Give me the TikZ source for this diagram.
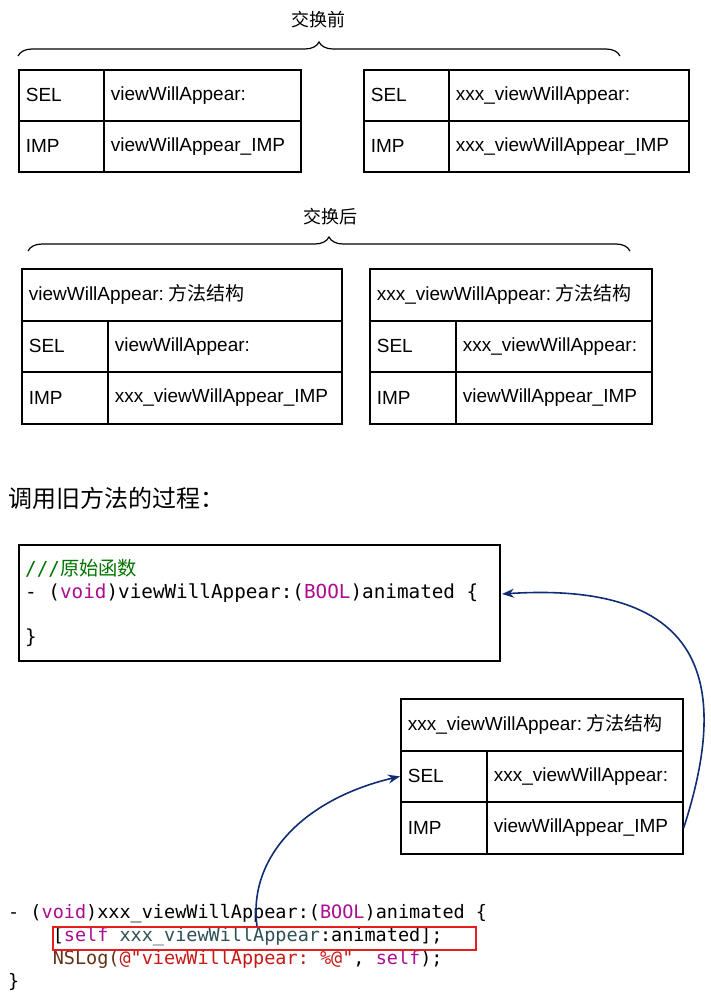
\documentclass[tikz,border=0pt]{standalone}
\usepackage{fontspec}
\setmainfont{Liberation Sans}
\setmonofont{DejaVu Sans Mono}
\newfontfamily\cjk{Noto Sans CJK SC}
\usetikzlibrary{decorations.pathreplacing,arrows.meta}
\definecolor{navy}{RGB}{16,44,115}
\definecolor{xgreen}{RGB}{0,116,0}
\definecolor{xkw}{RGB}{170,13,145}
\definecolor{xteal}{RGB}{46,80,85}
\definecolor{xbrown}{RGB}{100,50,25}
\definecolor{xstr}{RGB}{196,26,22}
\definecolor{xred}{RGB}{230,30,30}
\newcommand\kwc[1]{\textcolor{xkw}{#1}}
\newcommand\mycell[6]{\node[cell, text width=#4pt, minimum height=#5pt] (#1) at (#2,#3) {#6};}
\begin{document}
\begin{tikzpicture}[x=1pt,y=-1pt,
  cell/.style={draw, line width=1.7pt, anchor=north west, inner xsep=7pt, inner ysep=0pt, align=left, font=\fontsize{19}{22}\selectfont},
  title/.style={inner sep=0pt, font=\cjk\fontsize{18}{20}\selectfont},
  bracestyle/.style={decorate, decoration={brace, amplitude=14pt}, line width=1.2pt},
  codetext/.style={inner sep=0pt, anchor=base west},
  arr/.style={draw=navy, line width=1.6pt, -{Stealth[length=12pt,width=9pt]}}]
\useasboundingbox (0,0) rectangle (711,1000);

% before swap
\node[title] (before) at (318,20) {交换前};
\draw[bracestyle] (18,56) -- (620,56);
\mycell{t1a}{18}{69}{71}{51}{SEL}
\mycell{t1b}{103}{69}{183}{51}{viewWillAppear:}
\mycell{t1c}{18}{120}{71}{51}{IMP}
\mycell{t1d}{103}{120}{183}{51}{viewWillAppear\_IMP}
\mycell{t2a}{363}{69}{71}{51}{SEL}
\mycell{t2b}{448}{69}{226}{51}{xxx\_viewWillAppear:}
\mycell{t2c}{363}{120}{71}{51}{IMP}
\mycell{t2d}{448}{120}{226}{51}{xxx\_viewWillAppear\_IMP}

% after swap
\node[title] (after) at (330,217) {交换后};
\draw[bracestyle] (28,251) -- (630,251);
\mycell{t3h}{21}{268}{306}{52}{viewWillAppear:\hspace{4pt}{\cjk 方法结构}}
\mycell{t3a}{21}{320}{72}{51}{SEL}
\mycell{t3b}{107}{320}{220}{51}{viewWillAppear:}
\mycell{t3c}{21}{371}{72}{52}{IMP}
\mycell{t3d}{107}{371}{220}{52}{xxx\_viewWillAppear\_IMP}
\mycell{t4h}{369}{268}{268}{52}{xxx\_viewWillAppear:\hspace{4pt}{\cjk 方法结构}}
\mycell{t4a}{369}{320}{72}{51}{SEL}
\mycell{t4b}{455}{320}{182}{51}{xxx\_viewWillAppear:}
\mycell{t4c}{369}{371}{72}{52}{IMP}
\mycell{t4d}{455}{371}{182}{52}{viewWillAppear\_IMP}

% heading
\node[inner sep=0pt, anchor=west, font=\cjk\fontsize{24}{26}\selectfont] (heading) at (8,498) {调用旧方法的过程：};

% original function box
\node[draw, line width=1.7pt, anchor=north west, inner sep=0pt, minimum width=481pt, minimum height=116pt] (codebox) at (18,544) {};
\begin{scope}[every node/.append style={font=\ttfamily\fontsize{19.3}{23}\selectfont}]
\node[codetext] (c1) at (25,575) {\textcolor{xgreen}{///{\cjk 原始函数}}};
\node[codetext] (c2) at (25,598) {- (\kwc{void})viewWillAppear:(\kwc{BOOL})animated \{};
\node[codetext] (c3) at (25,643) {\}};
\end{scope}

% xxx method structure
\mycell{t5h}{400}{698}{268}{52}{xxx\_viewWillAppear:\hspace{4pt}{\cjk 方法结构}}
\mycell{t5a}{400}{750}{72}{51}{SEL}
\mycell{t5b}{486}{750}{182}{51}{xxx\_viewWillAppear:}
\mycell{t5c}{400}{801}{72}{52}{IMP}
\mycell{t5d}{486}{801}{182}{52}{viewWillAppear\_IMP}

% swizzled method code
\begin{scope}[every node/.append style={font=\ttfamily\fontsize{18.5}{23}\selectfont}]
\node[codetext] (d1) at (8,918) {- (\kwc{void})xxx\_viewWillAppear:(\kwc{BOOL})animated \{};
\node[codetext] (d2) at (8,941) {\phantom{0000}[\kwc{self} \textcolor{xteal}{xxx\_viewWillAppear}:animated];};
\node[codetext] (d3) at (8,964) {\phantom{0000}\textcolor{xbrown}{NSLog(}\textcolor{xstr}{@"viewWillAppear: \%@"}, \kwc{self});};
\node[codetext] (d4) at (8,987) {\}};
\end{scope}
\node[draw=xred, line width=1.6pt, anchor=north west, inner sep=0pt, minimum width=423pt, minimum height=23pt] (redbox) at (52,926) {};

% arrows
\coordinate (a1end) at (502,594);
\coordinate (a2start) at (257,926);
\draw[arr] (t5d.east) .. controls (725,700) and (720,580) .. (a1end);
\draw[arr] (a2start) .. controls (248,860) and (300,800) .. (t5a.west);
\end{tikzpicture}
\end{document}
